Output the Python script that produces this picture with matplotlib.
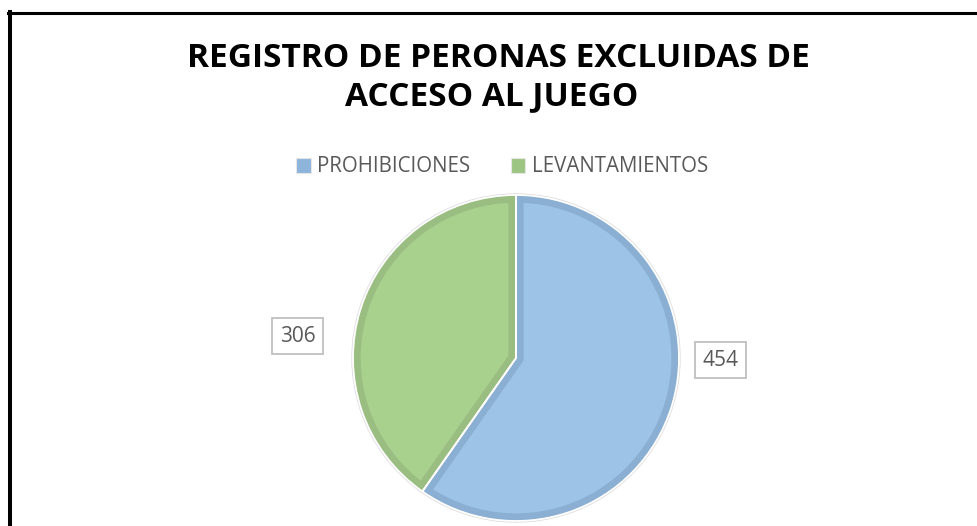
import matplotlib.pyplot as plt
from matplotlib.patches import Patch
from matplotlib.lines import Line2D

plt.rcParams['font.family'] = ['Open Sans', 'DejaVu Sans']

W, H = 978, 526

categories = ['PROHIBICIONES', 'LEVANTAMIENTOS']
values = [454, 306]
title_lines = ['REGISTRO DE PERONAS EXCLUIDAS DE', 'ACCESO AL JUEGO']

face_colors = ['#9DC3E6', '#A9D18E']
band_colors = ['#8AAFD2', '#9ABE81']
legend_colors = ['#8FB4DC', '#9CC583']
text_color = '#595959'

fig = plt.figure(figsize=(W / 100, H / 100), dpi=100)
fig.patch.set_facecolor('white')

# frame: only the top and left edges fall inside the image
fig.add_artist(Line2D([9.5 / W, 9.5 / W], [0, 1 - 12 / H], color='black', lw=2.9, transform=fig.transFigure))
fig.add_artist(Line2D([8 / W, 1], [1 - 13 / H, 1 - 13 / H], color='black', lw=2.2, transform=fig.transFigure))

# title, two lines
fig.text(498 / W, 1 - 67 / H, title_lines[0], ha='center', va='baseline',
         fontsize=24, fontweight='bold', color='black')
fig.text(492 / W, 1 - 105 / H, title_lines[1], ha='center', va='baseline',
         fontsize=24, fontweight='bold', color='black')

# pie axes, square, centred at (516, 358) px with radius 163 px
cx, cy, r = 516, 358, 163
half = 175
ax = fig.add_axes([(cx - half) / W, (H - cy - half) / H, 2 * half / W, 2 * half / H])

# soft grey halo around the pie
ax.pie(values, startangle=90, counterclock=False, radius=1.0,
       wedgeprops=dict(facecolor='white', edgecolor='#dcdcdc', linewidth=2.4))

wedges, _ = ax.pie(values, colors=face_colors, startangle=90, counterclock=False, radius=1.0)

# darker inner rim on each slice: a wide stroke clipped to the slice outline
# (pie() turns clipping off, so switch it back on)
for w, band in zip(wedges, band_colors):
    w.set_edgecolor(band)
    w.set_linewidth(11)
    w.set_clip_path(w)
    w.set_clip_on(True)

# thin white gaps between the slices
ax.pie(values, startangle=90, counterclock=False, radius=1.0,
       wedgeprops=dict(facecolor='none', edgecolor='white', linewidth=1.3))

lim = half / r
ax.set_xlim(-lim, lim)
ax.set_ylim(-lim, lim)
ax.set_aspect('equal')
ax.axis('off')

# value labels in boxes
label_pos = [(720.5, 360), (297.5, 336)]
for v, (px, py) in zip(values, label_pos):
    ax.text((px - cx) / r, (cy - py) / r, str(v), ha='center', va='center',
            fontsize=15, color=text_color,
            bbox=dict(boxstyle='square,pad=0.35', facecolor='white', edgecolor='#bfbfbf', linewidth=1.3))

handles = [Patch(facecolor=c, edgecolor='#e6e6e6', linewidth=0.8) for c in legend_colors]
fig.legend(handles, categories, loc='center', bbox_to_anchor=(502 / W, 1 - 167 / H),
           ncol=2, frameon=False, fontsize=14.8, labelcolor=text_color,
           handlelength=0.7, handleheight=0.7, handletextpad=0.3, columnspacing=2.0)

fig.savefig('out.png', dpi=100)
